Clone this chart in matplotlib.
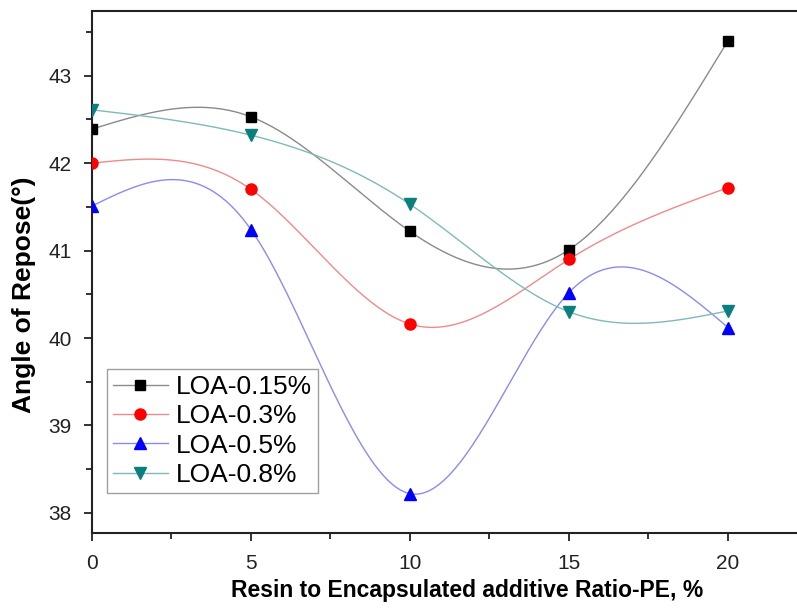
import numpy as np
import matplotlib

matplotlib.use("Agg")
import matplotlib.pyplot as plt
from matplotlib.ticker import MultipleLocator

plt.rcParams["font.family"] = ["Liberation Sans", "DejaVu Sans"]

ratio = [0, 5, 10, 15, 20]
loa_015 = [42.39, 42.53, 41.22, 41.01, 43.40]
loa_03 = [42.00, 41.70, 40.16, 40.90, 41.72]
loa_05 = [41.51, 41.24, 38.22, 40.52, 40.12]
loa_08 = [42.61, 42.32, 41.53, 40.30, 40.31]

series = [
    ("LOA-0.15%", loa_015, "s", "black", "#8a8a8a", 7),
    ("LOA-0.3%", loa_03, "o", "red", "#f08a8a", 8),
    ("LOA-0.5%", loa_05, "^", "blue", "#8a8af5", 9),
    ("LOA-0.8%", loa_08, "v", "#0a7f7f", "#7fbaba", 9),
]


def natural_spline(x, y, n=300):
    """Natural cubic spline through the points (no scipy needed)."""
    x = np.asarray(x, float)
    y = np.asarray(y, float)
    k = len(x)
    h = np.diff(x)
    a = np.zeros((k, k))
    b = np.zeros(k)
    a[0, 0] = a[-1, -1] = 1.0
    for i in range(1, k - 1):
        a[i, i - 1] = h[i - 1]
        a[i, i] = 2 * (h[i - 1] + h[i])
        a[i, i + 1] = h[i]
        b[i] = 6 * ((y[i + 1] - y[i]) / h[i] - (y[i] - y[i - 1]) / h[i - 1])
    m = np.linalg.solve(a, b)
    xs = np.linspace(x[0], x[-1], n)
    idx = np.clip(np.searchsorted(x, xs) - 1, 0, k - 2)
    x0, x1 = x[idx], x[idx + 1]
    hh = x1 - x0
    t0, t1 = x1 - xs, xs - x0
    ys = (m[idx] * t0 ** 3 + m[idx + 1] * t1 ** 3) / (6 * hh) \
        + (y[idx] / hh - m[idx] * hh / 6) * t0 \
        + (y[idx + 1] / hh - m[idx + 1] * hh / 6) * t1
    return xs, ys


fig = plt.figure(figsize=(7.97, 6.13), dpi=100)
ax = fig.add_axes([0.1154, 0.1305, 0.8846, 0.8515])

for label, vals, marker, mcol, lcol, ms in series:
    xs, ys = natural_spline(ratio, vals)
    ax.plot(xs, ys, color=lcol, lw=1.0, zorder=2)
    ax.plot(ratio, vals, ls="none", marker=marker, color=mcol, ms=ms, zorder=3)
    # proxy handle for the legend: line with marker in the middle
    ax.plot([], [], color=lcol, lw=1.0, marker=marker, mfc=mcol, mec=mcol,
            ms=ms, label=label)

ax.set_xlim(0, 22.17)
ax.set_ylim(37.77, 43.74)
ax.xaxis.set_major_locator(MultipleLocator(5))
ax.xaxis.set_minor_locator(MultipleLocator(2.5))
ax.yaxis.set_major_locator(MultipleLocator(1))
ax.yaxis.set_minor_locator(MultipleLocator(0.5))
ax.tick_params(which="both", direction="out", width=1.3, labelsize=15,
               colors="#222222")
ax.tick_params(which="major", length=6)
ax.tick_params(which="minor", length=4)
ax.tick_params(axis="x", which="major", pad=9)
ax.tick_params(axis="y", which="major", pad=8.5)
for side in ("left", "bottom", "top"):
    ax.spines[side].set_linewidth(1.5)
    ax.spines[side].set_color("#222222")
ax.spines["right"].set_visible(False)

ax.set_xlabel("Resin to Encapsulated additive Ratio-PE, %", fontsize=16.5,
              fontweight="bold")
ax.set_ylabel("Angle of Repose(\u00b0)", fontsize=19, fontweight="bold")
# the original figure is cropped on the right, so the titles sit off-centre
ax.xaxis.set_label_coords(0.532, -0.089)
ax.yaxis.set_label_coords(-0.080, 0.456)

leg = ax.legend(loc="lower left", bbox_to_anchor=(0.021, 0.077),
                borderaxespad=0, fontsize=19, frameon=True, fancybox=False,
                handlelength=2.1, handletextpad=0.3, labelspacing=0.2,
                borderpad=0.22, numpoints=1)
leg.get_frame().set_edgecolor("#888888")
leg.get_frame().set_linewidth(1.0)

fig.savefig("out.png", dpi=100)
